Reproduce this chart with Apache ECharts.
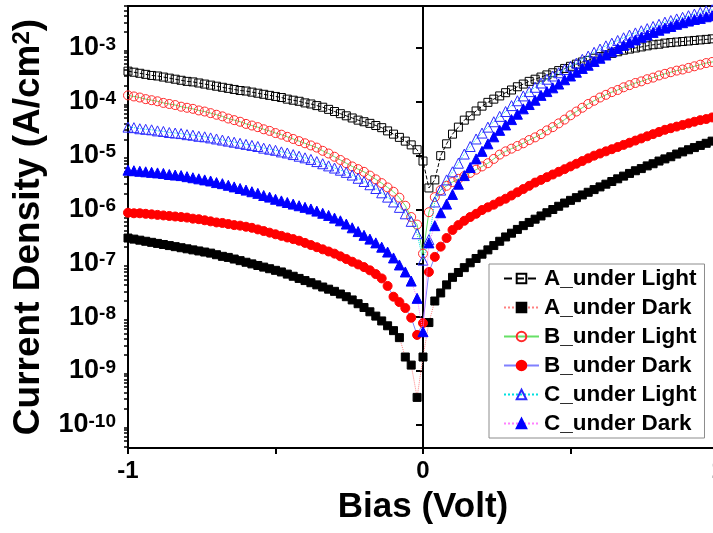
<!DOCTYPE html>
<html>
<head>
<meta charset="utf-8">
<script src="https://cdn.jsdelivr.net/npm/echarts@6/dist/echarts.min.js"></script>
<style>html,body{margin:0;padding:0;background:#fff;}#main{width:713px;height:533px;}</style>
</head>
<body>
<div id="main"></div>
<script>
// Bias (V)
const bias = [
-1.00,-0.98,-0.96,-0.94,-0.92,-0.90,-0.88,-0.86,-0.84,-0.82,
-0.80,-0.78,-0.76,-0.74,-0.72,-0.70,-0.68,-0.66,-0.64,-0.62,
-0.60,-0.58,-0.56,-0.54,-0.52,-0.50,-0.48,-0.46,-0.44,-0.42,
-0.40,-0.38,-0.36,-0.34,-0.32,-0.30,-0.28,-0.26,-0.24,-0.22,
-0.20,-0.18,-0.16,-0.14,-0.12,-0.10,-0.08,-0.06,-0.04,-0.02,
0.00,0.02,0.04,0.06,0.08,0.10,0.12,0.14,0.16,0.18,
0.20,0.22,0.24,0.26,0.28,0.30,0.32,0.34,0.36,0.38,
0.40,0.42,0.44,0.46,0.48,0.50,0.52,0.54,0.56,0.58,
0.60,0.62,0.64,0.66,0.68,0.70,0.72,0.74,0.76,0.78,
0.80,0.82,0.84,0.86,0.88,0.90,0.92,0.94,0.96,0.98,
1.00];
// log10 of current density (A/cm^2)
const A_light = [
-3.43,-3.45,-3.47,-3.49,-3.51,-3.52,-3.54,-3.56,-3.58,-3.60,
-3.62,-3.63,-3.65,-3.67,-3.69,-3.71,-3.73,-3.75,-3.77,-3.79,
-3.80,-3.82,-3.84,-3.86,-3.88,-3.90,-3.92,-3.95,-3.97,-3.99,
-4.02,-4.04,-4.07,-4.10,-4.14,-4.18,-4.22,-4.26,-4.30,-4.34,
-4.37,-4.40,-4.44,-4.48,-4.54,-4.60,-4.66,-4.73,-4.80,-4.89,
-5.10,-5.60,-5.45,-5.00,-4.78,-4.60,-4.47,-4.34,-4.26,-4.17,
-4.08,-4.01,-3.95,-3.89,-3.83,-3.78,-3.72,-3.67,-3.62,-3.58,
-3.54,-3.50,-3.46,-3.42,-3.38,-3.34,-3.30,-3.26,-3.23,-3.19,
-3.16,-3.13,-3.10,-3.07,-3.04,-3.02,-3.00,-2.98,-2.96,-2.94,
-2.93,-2.91,-2.90,-2.89,-2.88,-2.87,-2.86,-2.85,-2.84,-2.83,
-2.82];
const A_dark = [
-6.53,-6.55,-6.57,-6.59,-6.61,-6.63,-6.65,-6.67,-6.69,-6.71,
-6.73,-6.75,-6.77,-6.79,-6.81,-6.84,-6.87,-6.89,-6.92,-6.95,
-6.98,-7.01,-7.04,-7.07,-7.10,-7.13,-7.16,-7.20,-7.24,-7.28,
-7.32,-7.36,-7.40,-7.44,-7.48,-7.52,-7.57,-7.62,-7.68,-7.75,
-7.82,-7.90,-7.98,-8.07,-8.16,-8.25,-8.38,-8.74,-8.89,-9.49,
-8.74,-8.10,-7.70,-7.55,-7.40,-7.26,-7.17,-7.08,-6.99,-6.91,
-6.83,-6.75,-6.67,-6.59,-6.51,-6.44,-6.37,-6.30,-6.24,-6.18,
-6.12,-6.06,-6.00,-5.94,-5.88,-5.83,-5.78,-5.73,-5.68,-5.63,
-5.58,-5.53,-5.48,-5.43,-5.38,-5.33,-5.28,-5.24,-5.19,-5.15,
-5.10,-5.06,-5.02,-4.97,-4.93,-4.89,-4.85,-4.81,-4.77,-4.73,
-4.69];
const B_light = [
-3.88,-3.90,-3.92,-3.95,-3.97,-3.99,-4.02,-4.04,-4.06,-4.09,
-4.11,-4.13,-4.16,-4.18,-4.21,-4.24,-4.27,-4.31,-4.34,-4.37,
-4.41,-4.44,-4.47,-4.51,-4.54,-4.58,-4.61,-4.65,-4.69,-4.73,
-4.77,-4.81,-4.85,-4.91,-4.96,-5.02,-5.08,-5.14,-5.20,-5.25,
-5.30,-5.37,-5.44,-5.51,-5.59,-5.67,-5.78,-5.93,-6.14,-6.28,
-6.82,-6.05,-5.77,-5.64,-5.56,-5.49,-5.43,-5.38,-5.32,-5.26,
-5.20,-5.14,-5.06,-4.98,-4.92,-4.87,-4.82,-4.77,-4.71,-4.66,
-4.60,-4.53,-4.47,-4.40,-4.33,-4.25,-4.18,-4.11,-4.04,-3.98,
-3.92,-3.87,-3.82,-3.78,-3.73,-3.69,-3.65,-3.62,-3.58,-3.55,
-3.51,-3.48,-3.45,-3.42,-3.40,-3.37,-3.34,-3.31,-3.28,-3.26,
-3.24];
const B_dark = [
-6.06,-6.07,-6.07,-6.08,-6.09,-6.10,-6.11,-6.12,-6.13,-6.14,
-6.15,-6.17,-6.18,-6.20,-6.22,-6.24,-6.25,-6.27,-6.29,-6.30,
-6.32,-6.34,-6.37,-6.40,-6.43,-6.46,-6.49,-6.52,-6.55,-6.58,
-6.62,-6.66,-6.70,-6.74,-6.78,-6.82,-6.87,-6.92,-6.97,-7.02,
-7.07,-7.13,-7.20,-7.28,-7.42,-7.62,-7.72,-7.83,-8.01,-8.33,
-8.11,-7.16,-6.88,-6.69,-6.53,-6.38,-6.29,-6.21,-6.14,-6.08,
-6.01,-5.96,-5.91,-5.85,-5.80,-5.74,-5.68,-5.62,-5.56,-5.50,
-5.45,-5.40,-5.35,-5.30,-5.25,-5.20,-5.15,-5.10,-5.05,-5.00,
-4.96,-4.92,-4.88,-4.84,-4.80,-4.76,-4.72,-4.68,-4.64,-4.60,
-4.56,-4.52,-4.49,-4.46,-4.43,-4.40,-4.37,-4.34,-4.32,-4.29,
-4.27];
const C_light = [
-4.47,-4.48,-4.50,-4.51,-4.52,-4.54,-4.55,-4.57,-4.58,-4.59,
-4.61,-4.62,-4.64,-4.65,-4.67,-4.69,-4.71,-4.73,-4.75,-4.77,
-4.79,-4.81,-4.83,-4.86,-4.88,-4.90,-4.93,-4.95,-4.98,-5.01,
-5.04,-5.07,-5.11,-5.15,-5.19,-5.23,-5.27,-5.31,-5.36,-5.42,
-5.48,-5.54,-5.61,-5.69,-5.77,-5.86,-5.96,-6.08,-6.22,-6.45,
-6.94,-6.56,-5.86,-5.64,-5.45,-5.30,-5.14,-4.97,-4.83,-4.69,
-4.58,-4.47,-4.37,-4.27,-4.18,-4.07,-3.98,-3.89,-3.81,-3.73,
-3.65,-3.58,-3.52,-3.46,-3.40,-3.34,-3.28,-3.21,-3.15,-3.08,
-3.02,-2.96,-2.91,-2.86,-2.81,-2.76,-2.72,-2.68,-2.64,-2.60,
-2.56,-2.52,-2.49,-2.46,-2.43,-2.40,-2.37,-2.34,-2.31,-2.29,
-2.27];
const C_dark = [
-5.27,-5.28,-5.29,-5.30,-5.31,-5.32,-5.33,-5.35,-5.36,-5.37,
-5.39,-5.41,-5.43,-5.45,-5.47,-5.50,-5.52,-5.55,-5.58,-5.61,
-5.64,-5.67,-5.70,-5.74,-5.77,-5.81,-5.84,-5.87,-5.90,-5.93,
-5.96,-5.99,-6.03,-6.07,-6.11,-6.16,-6.21,-6.27,-6.34,-6.41,
-6.48,-6.55,-6.62,-6.70,-6.79,-6.90,-7.03,-7.16,-7.33,-7.65,
-8.27,-6.62,-6.30,-6.06,-5.90,-5.72,-5.53,-5.37,-5.22,-5.06,
-4.92,-4.78,-4.65,-4.53,-4.43,-4.33,-4.23,-4.13,-4.05,-3.97,
-3.88,-3.81,-3.74,-3.67,-3.59,-3.52,-3.45,-3.38,-3.32,-3.25,
-3.19,-3.13,-3.07,-3.01,-2.95,-2.90,-2.85,-2.80,-2.76,-2.71,
-2.67,-2.63,-2.60,-2.56,-2.53,-2.50,-2.47,-2.45,-2.42,-2.40,
-2.38];
const seriesNames = ['A_under Light','A_under Dark','B_under Light','B_under Dark','C_under Light','C_under Dark'];
const yTickExponents = [-10,-9,-8,-7,-6,-5,-4,-3];
const xTickLabels = [-1, 0, 1];

const F = '"Liberation Sans", Arial, sans-serif';
const Y_MIN = -10.43, Y_MAX = -2.22;
const GRID_LEFT = 128, GRID_RIGHT = -5, CHART_W = 713;
const GRID_W = CHART_W - GRID_LEFT - GRID_RIGHT;

// minor log ticks (2..9 within each decade)
const minorTicks = [];
for (let n = -11; n <= -3; n++) {
  for (let k = 2; k <= 9; k++) {
    const v = n + Math.log10(k);
    if (v > Y_MIN && v < Y_MAX) minorTicks.push(v);
  }
}

function pts(arr) { return bias.map((b, i) => [b, arr[i]]); }

function mk(name, arr, symbol, size, fill, border, lineColor, lineType, z) {
  return {
    name: name, type: 'line', data: pts(arr), symbol: symbol, symbolSize: size,
    showSymbol: true, animation: false, z: z,
    lineStyle: { color: lineColor, width: 1, type: lineType },
    itemStyle: { color: fill, borderColor: border, borderWidth: 1 },
    emphasis: { disabled: true }
  };
}

const chart = echarts.init(document.getElementById('main'), null, { renderer: 'canvas' });
chart.setOption({
  animation: false,
  backgroundColor: '#fff',
  grid: { left: GRID_LEFT, right: GRID_RIGHT, top: 6, bottom: 85, show: true, borderColor: '#000', borderWidth: 2, backgroundColor: 'transparent', containLabel: false, outerBoundsMode: 'none' },
  legend: {
    orient: 'vertical', left: 489, top: 264,
    backgroundColor: '#fff', borderColor: '#8c8c8c', borderWidth: 1,
    padding: [3, 8, 3, 14], itemWidth: 35, itemHeight: 12, itemGap: 6,
    textStyle: { fontFamily: F, fontSize: 22.5, fontWeight: 'bold', color: '#000', lineHeight: 23 },
    data: seriesNames
  },
  xAxis: {
    type: 'value', min: -1, max: 1, interval: 0.5,
    name: 'Bias (Volt)', nameLocation: 'middle', nameGap: 42,
    nameTextStyle: { fontFamily: F, fontSize: 35, fontWeight: 'bold', color: '#000' },
    axisLine: { lineStyle: { color: '#000', width: 2 } },
    axisTick: { length: 6, lineStyle: { color: '#000', width: 2 } },
    axisLabel: {
      fontFamily: F, fontSize: 24, fontWeight: 'bold', color: '#000', margin: 11,
      formatter: function (v) { return xTickLabels.indexOf(v) >= 0 ? String(v) : ''; }
    },
    splitLine: { show: false }
  },
  yAxis: [{
    type: 'value', min: Y_MIN, max: Y_MAX,
    name: '{t|Current Density (A/cm}{s|2}{t|)}', nameLocation: 'middle', nameGap: 76,
    nameTextStyle: {
      rich: {
        t: { fontFamily: F, fontSize: 37, fontWeight: 'bold', color: '#000', lineHeight: 38 },
        s: { fontFamily: F, fontSize: 24, fontWeight: 'bold', color: '#000', verticalAlign: 'top', lineHeight: 24 }
      }
    },
    axisLine: { lineStyle: { color: '#000', width: 2 } },
    axisTick: { customValues: yTickExponents, length: 7, lineStyle: { color: '#000', width: 2 } },
    axisLabel: {
      customValues: yTickExponents, margin: 12,
      formatter: function (v) { return '{b|10}{s|' + Math.round(v) + '}'; },
      rich: {
        b: { fontFamily: F, fontSize: 27, fontWeight: 'bold', color: '#000', lineHeight: 26 },
        s: { fontFamily: F, fontSize: 19, fontWeight: 'bold', color: '#000', verticalAlign: 'top', lineHeight: 18 }
      }
    },
    splitLine: { show: false }
  }, {
    type: 'value', min: Y_MIN, max: Y_MAX, position: 'right', offset: -GRID_W,
    axisLine: { show: false },
    axisTick: { show: true, inside: true, customValues: minorTicks, length: 4, lineStyle: { color: '#000', width: 1.5 } },
    axisLabel: { show: false },
    splitLine: { show: false }
  }],
  series: [
    mk(seriesNames[0], A_light, 'rect', 8, 'rgba(255,255,255,0)', '#000', '#000', 'dashed', 2),
    mk(seriesNames[1], A_dark, 'rect', 8, '#000', '#000', '#ff8080', 'dotted', 3),
    mk(seriesNames[2], B_light, 'circle', 9, 'rgba(255,255,255,0)', '#ff2a2a', '#66e066', 'solid', 4),
    mk(seriesNames[3], B_dark, 'circle', 9, '#ff0000', '#ff0000', '#8080ff', 'solid', 5),
    mk(seriesNames[4], C_light, 'triangle', 10, 'rgba(255,255,255,0)', '#2a2aff', '#00e0e0', 'dotted', 6),
    mk(seriesNames[5], C_dark, 'triangle', 10, '#0000ff', '#0000ff', '#ff80ff', 'dotted', 7)
  ]
});
</script>
</body>
</html>
